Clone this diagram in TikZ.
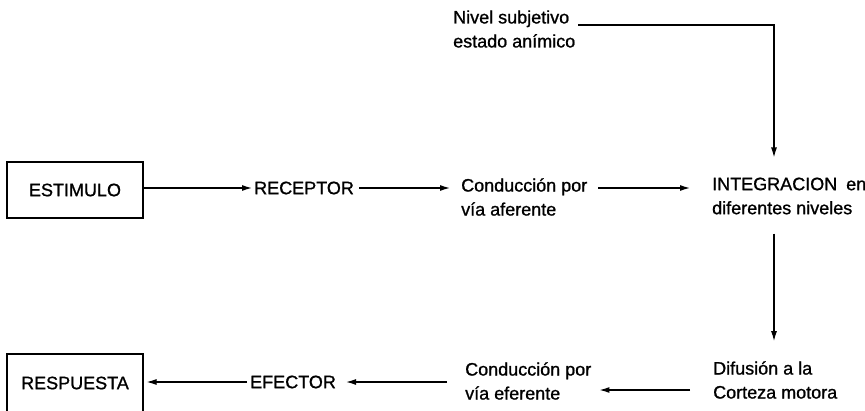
\documentclass[tikz,border=0pt]{standalone}
\usepackage{fontspec}
\setmainfont[FakeBold=1]{Liberation Sans}
\usepackage{tikz}
\usetikzlibrary{arrows.meta}

\begin{document}
\begin{tikzpicture}[x=1pt,y=-1pt,
 txt/.style={inner sep=0pt,align=left,anchor=west,font=\fontsize{18}{24}\selectfont},
 caja/.style={draw,line width=1.2pt,minimum width=136pt,inner sep=0pt,font=\fontsize{18}{24}\selectfont},
 flecha/.style={-{Latex[length=10pt,width=6pt]},line width=1.2pt}
]
\useasboundingbox (0,0) rectangle (865,410);
\node[caja,minimum height=56pt] (estimulo) at (75,190) {ESTIMULO};
\node[txt] (receptor) at (254,188) {RECEPTOR};
\node[txt] (conafer) at (461,197) {Conducción por\\vía aferente};
\node[txt] (integ) at (712,196) {INTEGRACION\hspace{4pt} en\\diferentes niveles};
\node[txt] (nivel) at (453,29) {Nivel subjetivo\\estado anímico};
\node[txt] (difu) at (713,380) {Difusión a la\\Corteza motora};
\node[txt] (conefer) at (465,381) {Conducción por\\vía eferente};
\node[txt] (efector) at (250,382) {EFECTOR};
\node[caja,minimum height=58pt] (respuesta) at (75,383) {RESPUESTA};
\coordinate (codo) at (774,25);
\draw[flecha] (estimulo.east |- receptor.west) -- ([xshift=-2pt]receptor.west);
\draw[flecha] ([xshift=5pt]receptor.east) -- ([xshift=-11pt]receptor.east -| conafer.west);
\draw[flecha] ([xshift=11pt]receptor.east -| conafer.east) -- ([xshift=-22pt]receptor.east -| integ.west);
\draw[flecha] ([xshift=3pt]codo -| nivel.east) -- (codo) -- ([yshift=20pt]codo |- integ.north);
\draw[flecha] ([yshift=-19pt]codo |- integ.south) -- ([yshift=20pt]codo |- difu.north);
\draw[flecha] ([xshift=-23pt,yshift=-10pt]difu.west) -- ([xshift=8pt,yshift=-10pt]difu.west -| conefer.east);
\draw[flecha] ([xshift=-18pt]conefer.west |- efector.east) -- ([xshift=10pt]efector.east);
\draw[flecha] ([xshift=-3pt]efector.west) -- ([xshift=3pt]efector.west -| respuesta.east);
\end{tikzpicture}
\end{document}
